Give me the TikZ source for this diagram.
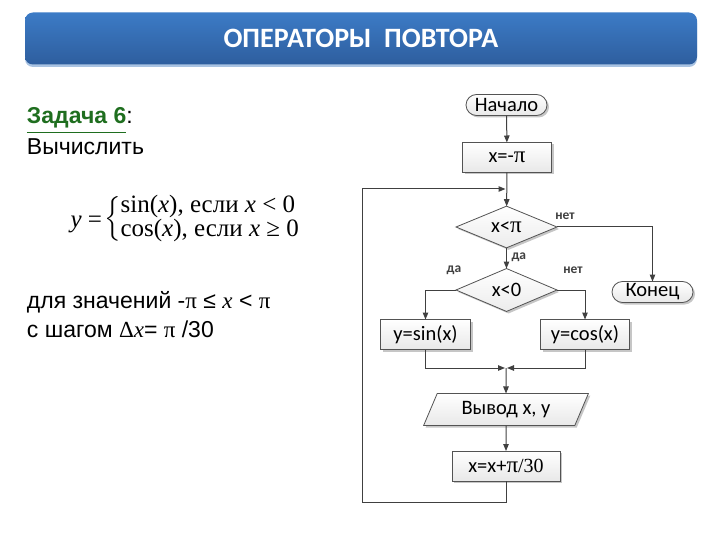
\documentclass[tikz,border=0pt]{standalone}
\usepackage{fontspec}
\usepackage{amsmath}
\setmainfont{Liberation Sans}
\newfontfamily\calfont{Carlito}
\newfontfamily\serf{Liberation Serif}
\usetikzlibrary{shapes.geometric,shapes.misc,shadows,arrows.meta}
\definecolor{bannertop}{HTML}{3C7BC6}
\definecolor{bannerbot}{HTML}{2E5E9E}
\definecolor{bannerline}{HTML}{A9C3E2}
\definecolor{taskgreen}{HTML}{1F6E1F}
\definecolor{flowline}{HTML}{404040}
\newcommand{\bigpi}{{\serf\fontsize{23}{24}\selectfont π}}
\begin{document}
\begin{tikzpicture}[x=1pt,y=-1pt,
  every node/.style={inner sep=0pt, outer sep=0pt},
  fbox/.style={draw=flowline!90, line width=0.8pt, shading=axis, top color=white, bottom color=gray!18,
     general shadow={fill=gray!45, shadow xshift=2pt, shadow yshift=-2pt},
     font=\calfont\fontsize{20.5}{22}\selectfont},
  procbox/.style={fbox, rectangle, minimum width=89pt, minimum height=30pt},
  termbox/.style={fbox, rounded rectangle, minimum width=81pt, minimum height=21pt},
  decbox/.style={fbox, diamond, minimum width=101pt, minimum height=40pt, general shadow={fill=none,draw=none}, shading=axis, top color=white, bottom color=gray!15},
  iobox/.style={fbox, trapezium, trapezium left angle=62, trapezium right angle=118, trapezium stretches=true, minimum width=165pt, minimum height=32pt},
  conn/.style={draw=flowline, line width=1pt, -{Triangle[length=7pt,width=5.5pt]}},
  lbl/.style={font=\calfont\bfseries\fontsize{13.5}{14}\selectfont, text=flowline},
  lefttext/.style={anchor=base west, font=\fontsize{23}{26}\selectfont},
]
\useasboundingbox (0,0) rectangle (720,540);
% title banner
\fill[bannerline, rounded corners=8pt] (25,15) rectangle (697,67);
\node[rounded corners=8pt, shading=axis, top color=bannertop, bottom color=bannerbot,
  minimum width=672pt, minimum height=52pt, text=white,
  font=\calfont\bfseries\fontsize{28}{30}\selectfont] (title) at (361,38.5) {ОПЕРАТОРЫ\ \ ПОВТОРА};

% left text
\node[lefttext] (task) at (27,124) {{\bfseries\color{taskgreen}\underline{Задача 6}}:};
\node[lefttext] (calc) at (27,155) {Вычислить};
\node[anchor=west, font=\serf\fontsize{25}{22}\selectfont] (formula) at (104,219)
  {$\left\{\begin{array}{@{}l@{}}\text{sin(\textit{x}), если \textit{x} < 0}\\\text{cos(\textit{x}), если \textit{x} ≥ 0}\end{array}\right.$};
\node[anchor=base east, font=\serf\fontsize{25}{25}\selectfont] (yeq) at (102,227) {\textit{y} =};
\node[lefttext] (range) at (27,308) {для значений -{\serf π} ≤ {\serf\itshape x} < {\serf π}};
\node[lefttext] (step) at (27,337) {с шагом {\serf Δ\itshape x}= {\serf π} /30};

% flowchart nodes
\node[termbox] (start) at (506.5,105) {Начало};
\node[procbox] (init) at (507,157.5) {x=-\bigpi};
\node[decbox] (cond1) at (506.5,227) {x<\bigpi};
\node[decbox] (cond2) at (506.5,290) {x<0};
\node[termbox] (stop) at (652.5,292) {Конец};
\node[procbox, minimum width=90pt] (sinb) at (425.5,334.5) {y=sin(x)};
\node[procbox, minimum width=89pt] (cosb) at (585,334.5) {y=cos(x)};
\node[iobox] (out) at (506,409.5) {Вывод x, y};
\node[procbox, minimum width=108pt] (incr) at (506,466) {x=x+\bigpi{\serf\fontsize{20}{22}\selectfont/30}};

\coordinate (loopin) at (506,189);
\coordinate (merge) at (506,368);
\coordinate (loopb) at (506,502);
\coordinate (loopl) at (362,502);
\coordinate (loopt) at (362,189);

% connectors
\draw[conn] (start) -- (init);
\draw[conn] (init) -- (cond1);
\draw[conn] (cond1) -- node[lbl, anchor=west, xshift=5pt, pos=0.45] {да} (cond2);
\draw[conn] (cond1.east) -| (stop.north);
\node[lbl] (no1) at (565,216) {нет};
\draw[conn] (cond2.west) -| (sinb.north);
\draw[conn] (cond2.east) -| (cosb.north);
\node[lbl] (yes2) at (454,270) {да};
\node[lbl] (no2) at (573,270) {нет};
\draw[conn] (sinb.south) |- ([xshift=-1pt]merge);
\draw[conn] (cosb.south) |- ([xshift=1pt]merge);
\draw[conn] (merge) -- (out);
\draw[conn] (out) -- (incr);
\draw[conn] (incr.south) -- (loopb) -- (loopl) -- (loopt) -- ([xshift=-0.5pt]loopin);
\end{tikzpicture}
\end{document}
